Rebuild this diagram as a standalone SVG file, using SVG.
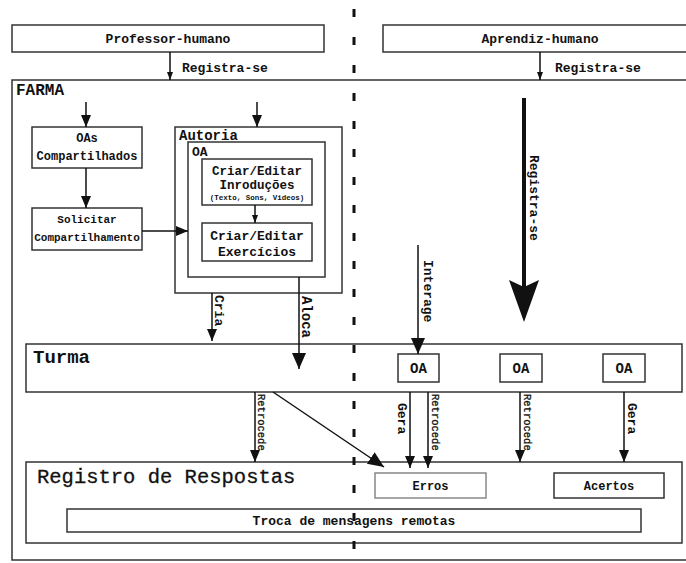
<svg xmlns="http://www.w3.org/2000/svg" width="686" height="563" viewBox="0 0 686 563">
<defs>
<marker id="ah" markerUnits="userSpaceOnUse" markerWidth="12" markerHeight="12" viewBox="0 0 12 12" refX="12" refY="6" orient="auto">
<path d="M0,1 L12,6 L0,11 Z" fill="#111"/>
</marker>
<marker id="ahs" markerUnits="userSpaceOnUse" markerWidth="8" markerHeight="8" viewBox="0 0 8 8" refX="8" refY="4" orient="auto">
<path d="M0,1 L8,4 L0,7 Z" fill="#111"/>
</marker>
<marker id="ahm" markerUnits="userSpaceOnUse" markerWidth="16" markerHeight="16" viewBox="0 0 16 16" refX="16" refY="8" orient="auto">
<path d="M0,1 L16,8 L0,15 Z" fill="#111"/>
</marker>
</defs>
<style>
text{font-family:"Liberation Mono","DejaVu Sans Mono","Courier New",monospace;font-weight:bold;fill:#111}
.box{fill:#fff;stroke:#333;stroke-width:1.5}
.c{text-anchor:middle}
.ln{stroke:#111;stroke-width:1.5;fill:none}
.rn{font-weight:normal;stroke:#111;stroke-width:0.3}
</style>
<rect width="686" height="563" fill="#fff"/>

<g id="professor">
<rect class="box" x="12" y="25" width="312" height="27"/>
<text class="c" x="168" y="43" font-size="13">Professor-humano</text>
</g>
<g id="aprendiz">
<rect class="box" x="383" y="25" width="310" height="27"/>
<text class="c" x="540" y="43" font-size="13">Aprendiz-humano</text>
</g>
<g id="farma">
<rect class="box" x="12" y="80" width="690" height="480"/>
<text x="16" y="95" font-size="16">FARMA</text>
</g>
<g id="oas-compartilhados">
<rect class="box" x="32" y="127" width="110" height="41"/>
<text class="c" x="87" y="142" font-size="12">OAs</text>
<text class="c" x="87" y="160" font-size="12">Compartilhados</text>
</g>
<g id="solicitar">
<rect class="box" x="32" y="208" width="110" height="42"/>
<text class="c" x="87" y="223" font-size="11">Solicitar</text>
<text class="c" x="87" y="241" font-size="11">Compartilhamento</text>
</g>
<g id="autoria">
<rect class="box" x="175" y="127" width="167" height="166"/>
<text x="179" y="140" font-size="14">Autoria</text>
</g>
<g id="oa-autoria">
<rect class="box" x="188" y="142" width="137" height="135"/>
<text x="192" y="156" font-size="13">OA</text>
</g>
<g id="introducoes">
<rect class="box" x="202" y="159" width="110" height="46"/>
<text class="c" x="257" y="175" font-size="12.5">Criar/Editar</text>
<text class="c" x="257" y="189" font-size="12.5">Inroduções</text>
<text class="c" x="257" y="200" font-size="7.5">(Texto, Sons, Videos)</text>
</g>
<g id="exercicios">
<rect class="box" x="202" y="223" width="110" height="38"/>
<text class="c" x="257" y="240" font-size="13">Criar/Editar</text>
<text class="c" x="257" y="256" font-size="13">Exercícios</text>
</g>
<g id="turma">
<rect class="box" x="26" y="344" width="656" height="48"/>
<text x="33" y="363" font-size="19">Turma</text>
</g>
<g id="oa1">
<rect class="box" x="398" y="354" width="41" height="28"/>
<text class="c" x="418.5" y="373" font-size="14">OA</text>
</g>
<g id="oa2">
<rect class="box" x="500" y="354" width="42" height="28"/>
<text class="c" x="521" y="373" font-size="14">OA</text>
</g>
<g id="oa3">
<rect class="box" x="603" y="354" width="42" height="28"/>
<text class="c" x="624" y="373" font-size="14">OA</text>
</g>
<g id="registro">
<rect class="box" x="26" y="462" width="656" height="81"/>
<text x="37" y="483" font-size="20.5" class="rn" stroke-width="0.5">Registro de Respostas</text>
</g>
<g id="erros">
<rect x="375" y="473" width="111" height="25" fill="#fff" stroke="#888" stroke-width="1.5"/>
<text class="c" x="430.5" y="490" font-size="12">Erros</text>
</g>
<g id="acertos">
<rect class="box" x="554" y="473" width="110" height="25"/>
<text class="c" x="609" y="490" font-size="12">Acertos</text>
</g>
<g id="troca">
<rect class="box" x="67" y="509" width="574" height="23"/>
<text class="c" x="354" y="525" font-size="13">Troca de mensagens remotas</text>
</g>

<g id="connectors">
<line class="ln" x1="170" y1="52" x2="170" y2="80" marker-end="url(#ahs)"/>
<text x="182" y="72" font-size="13">Registra-se</text>
<line class="ln" x1="540" y1="52" x2="540" y2="80" marker-end="url(#ahs)"/>
<text x="555" y="72" font-size="13">Registra-se</text>

<line class="ln" x1="86" y1="102" x2="86" y2="127" marker-end="url(#ah)"/>
<line class="ln" x1="86" y1="168" x2="86" y2="208" marker-end="url(#ah)"/>
<line class="ln" x1="142" y1="231" x2="188" y2="231" marker-end="url(#ah)"/>
<line class="ln" x1="257" y1="102" x2="257" y2="127" marker-end="url(#ah)"/>
<line class="ln" x1="255" y1="205" x2="255" y2="223" marker-end="url(#ahs)"/>

<line class="ln" x1="212" y1="293" x2="212" y2="341" marker-end="url(#ah)"/>
<text transform="translate(215,295) rotate(90)" font-size="13">Cria</text>
<line class="ln" x1="299" y1="277" x2="299" y2="369" marker-end="url(#ahm)"/>
<text transform="translate(302,296) rotate(90)" font-size="14">Aloca</text>

<line x1="524" y1="98" x2="524" y2="290" stroke="#111" stroke-width="4"/>
<path d="M509,280 L524,287 L539,280 L524,322 Z" fill="#111"/>
<text transform="translate(530,155) rotate(90)" font-size="13">Registra-se</text>

<line class="ln" x1="418" y1="245" x2="418" y2="354" marker-end="url(#ahm)"/>
<text transform="translate(424,260) rotate(90)" font-size="13">Interage</text>

<line class="ln" x1="255" y1="392" x2="255" y2="462" marker-end="url(#ah)"/>
<text class="rn" transform="translate(258,394) rotate(90)" font-size="10.5">Retrocede</text>
<line class="ln" x1="273" y1="392" x2="384" y2="467" marker-end="url(#ahm)"/>

<line class="ln" x1="410" y1="392" x2="410" y2="468" marker-end="url(#ah)"/>
<text transform="translate(398,403) rotate(90)" font-size="13">Gera</text>
<line class="ln" x1="428" y1="392" x2="428" y2="468" marker-end="url(#ah)"/>
<text class="rn" transform="translate(432,394) rotate(90)" font-size="10.5">Retrocede</text>
<line class="ln" x1="520" y1="392" x2="520" y2="462" marker-end="url(#ah)"/>
<text class="rn" transform="translate(524,394) rotate(90)" font-size="10.5">Retrocede</text>
<line class="ln" x1="624" y1="392" x2="624" y2="462" marker-end="url(#ah)"/>
<text transform="translate(628,403) rotate(90)" font-size="13">Gera</text>
</g>
<line id="divider" x1="354" y1="9" x2="354" y2="563" stroke="#111" stroke-width="3" stroke-dasharray="8 20"/>
</svg>
